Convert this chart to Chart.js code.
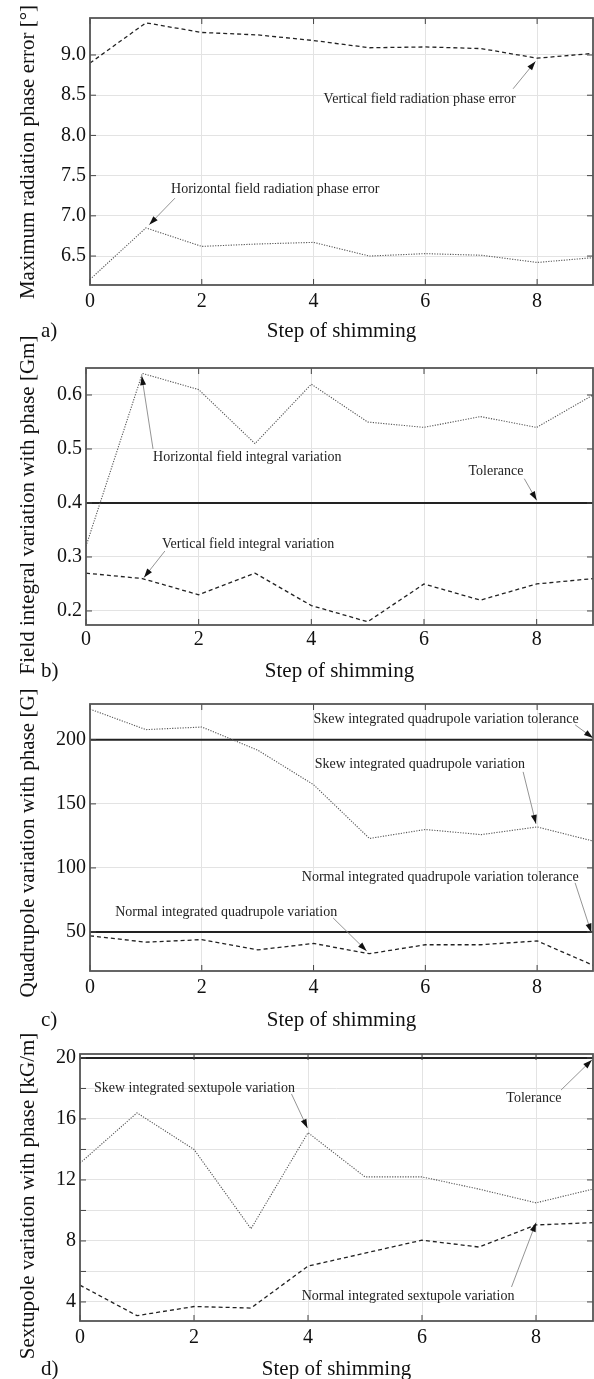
<!DOCTYPE html>
<html>
<head>
<meta charset="utf-8">
<script src="https://cdn.jsdelivr.net/npm/chart.js@4.4.1/dist/chart.umd.min.js"></script>
<style>
  html, body { margin: 0; padding: 0; background: #fff; }
  #page { position: relative; width: 594px; height: 1379px; overflow: hidden; background: #fff; }
  canvas { position: absolute; left: 0; }
</style>
</head>
<body>
<div id="page">
  <canvas id="chartA" width="594" height="345" style="top:0px"></canvas>
  <canvas id="chartB" width="594" height="365" style="top:325px"></canvas>
  <canvas id="chartC" width="594" height="360" style="top:680px"></canvas>
  <canvas id="chartD" width="594" height="349" style="top:1030px"></canvas>
</div>
<script>
const steps = [0, 1, 2, 3, 4, 5, 6, 7, 8, 9];

// a) max radiation phase error [deg]
const phaseErrVertical = [8.90, 9.40, 9.28, 9.25, 9.18, 9.09, 9.10, 9.08, 8.96, 9.02];
const phaseErrHorizontal = [6.21, 6.85, 6.62, 6.65, 6.67, 6.50, 6.53, 6.51, 6.42, 6.48];

// b) field integral variation [Gm]
const fieldIntHorizontal = [0.32, 0.64, 0.61, 0.51, 0.62, 0.55, 0.54, 0.56, 0.54, 0.60];
const fieldIntVertical = [0.27, 0.26, 0.23, 0.27, 0.21, 0.18, 0.25, 0.22, 0.25, 0.26];
const fieldIntTolerance = 0.4;

// c) quadrupole variation [G]
const quadSkew = [224, 208, 210, 192, 165, 123, 130, 126, 132, 121];
const quadNormal = [47, 42, 44, 36, 41, 33, 40, 40, 43, 24];
const quadSkewTolerance = 200;
const quadNormalTolerance = 50;

// d) sextupole variation [kG/m]
const sextSkew = [13.1, 16.4, 14.0, 8.8, 15.1, 12.2, 12.2, 11.4, 10.5, 11.4];
const sextNormal = [5.1, 3.1, 3.7, 3.6, 6.35, 7.2, 8.05, 7.6, 9.05, 9.2];
const sextTolerance = 20;

const xTicks = [0, 2, 4, 6, 8];

const SERIF = '"Liberation Serif", "Times New Roman", serif';

function pts(vals) {
  return steps.map((s, i) => ({ x: s, y: vals[i] }));
}
function flat(v) {
  return [{ x: steps[0], y: v }, { x: steps[steps.length - 1], y: v }];
}

const dashed = { borderColor: '#222', borderWidth: 1.3, borderDash: [4, 3] };
const dotted = { borderColor: '#555', borderWidth: 1.1, borderDash: [1.2, 1.4] };
const solid = { borderColor: '#222', borderWidth: 2 };

// frame, inward ticks, annotations, rotated y title, panel letter
const decor = {
  id: 'decor',
  afterDatasetsDraw(chart, args, opts) {
    const { ctx, chartArea: a, scales: { x, y } } = chart;
    ctx.save();
    ctx.strokeStyle = '#444';
    ctx.lineWidth = 1;
    ctx.beginPath();
    x.ticks.forEach(t => {
      const px = x.getPixelForValue(t.value);
      ctx.moveTo(px, a.bottom); ctx.lineTo(px, a.bottom - 6);
      ctx.moveTo(px, a.top); ctx.lineTo(px, a.top + 6);
    });
    y.ticks.forEach(t => {
      const py = y.getPixelForValue(t.value);
      ctx.moveTo(a.left, py); ctx.lineTo(a.left + 6, py);
      ctx.moveTo(a.right, py); ctx.lineTo(a.right - 6, py);
    });
    ctx.stroke();

    ctx.strokeStyle = '#555';
    ctx.lineWidth = 1.8;
    ctx.strokeRect(a.left, a.top, a.right - a.left, a.bottom - a.top);

    // annotations
    (opts.notes || []).forEach(n => {
      const fx = x.getPixelForValue(n.from[0]), fy = y.getPixelForValue(n.from[1]);
      const tx = x.getPixelForValue(n.to[0]), ty = y.getPixelForValue(n.to[1]);
      ctx.strokeStyle = '#888';
      ctx.lineWidth = 0.9;
      ctx.beginPath(); ctx.moveTo(fx, fy); ctx.lineTo(tx, ty); ctx.stroke();
      const ang = Math.atan2(ty - fy, tx - fx);
      ctx.fillStyle = '#111';
      ctx.beginPath();
      ctx.moveTo(tx, ty);
      ctx.lineTo(tx - 9 * Math.cos(ang) + 3 * Math.sin(ang), ty - 9 * Math.sin(ang) - 3 * Math.cos(ang));
      ctx.lineTo(tx - 9 * Math.cos(ang) - 3 * Math.sin(ang), ty - 9 * Math.sin(ang) + 3 * Math.cos(ang));
      ctx.closePath(); ctx.fill();

      ctx.font = '14px ' + SERIF;
      ctx.textAlign = 'left';
      ctx.textBaseline = 'middle';
      ctx.fillStyle = '#222';
      ctx.fillText(n.text, x.getPixelForValue(n.at[0]), y.getPixelForValue(n.at[1]));
    });

    // y axis title
    ctx.save();
    ctx.translate(28, opts.titleY);
    ctx.rotate(-Math.PI / 2);
    ctx.font = '21px ' + SERIF;
    ctx.textAlign = 'center';
    ctx.textBaseline = 'middle';
    ctx.fillStyle = '#111';
    ctx.fillText(opts.yTitle, 0, 0);
    ctx.restore();

    // panel letter
    ctx.font = '21px ' + SERIF;
    ctx.textAlign = 'left';
    ctx.textBaseline = 'middle';
    ctx.fillStyle = '#111';
    ctx.fillText(opts.letter, 41, opts.letterY);
    ctx.restore();
  }
};

function makeChart(id, cfg) {
  return new Chart(document.getElementById(id), {
    type: 'line',
    data: { datasets: cfg.datasets },
    options: {
      responsive: false,
      animation: false,
      layout: { padding: { top: cfg.padTop, left: 0, right: 1, bottom: 0 } },
      elements: { point: { radius: 0 }, line: { tension: 0 } },
      plugins: { legend: { display: false }, tooltip: { enabled: false }, decor: cfg.decor },
      scales: {
        x: {
          type: 'linear', min: 0, max: 9,
          afterBuildTicks: s => { s.ticks = xTicks.map(v => ({ value: v })); },
          ticks: { padding: cfg.xTickPad, color: '#111', font: { family: SERIF, size: 20 }, maxRotation: 0, autoSkip: false },
          grid: { color: '#e3e3e3', drawTicks: false },
          border: { display: false },
          title: { display: true, text: 'Step of shimming', color: '#111', font: { family: SERIF, size: 21 }, padding: { top: 0, bottom: cfg.xTitlePad } },
          afterFit: s => { s.height = cfg.xHeight; }
        },
        y: {
          min: cfg.yMin, max: cfg.yMax,
          ticks: { stepSize: cfg.yStep, includeBounds: false, padding: 4, color: '#111', autoSkip: false, font: { family: SERIF, size: 20 }, callback: cfg.yLabel },
          grid: { color: '#e3e3e3', drawTicks: false },
          border: { display: false },
          afterFit: s => { s.width = cfg.left; }
        }
      }
    },
    plugins: [decor]
  });
}

makeChart('chartA', {
  padTop: 18, left: 90, xHeight: 60, xTickPad: 5, xTitlePad: 1.4,
  yMin: 6.14, yMax: 9.46, yStep: 0.5, yLabel: v => v.toFixed(1),
  datasets: [
    Object.assign({ data: pts(phaseErrVertical) }, dashed),
    Object.assign({ data: pts(phaseErrHorizontal) }, dotted)
  ],
  decor: {
    yTitle: 'Maximum radiation phase error [°]', titleY: 152, letter: 'a)', letterY: 331,
    notes: [
      { text: 'Vertical field radiation phase error', at: [4.18, 8.45], from: [7.57, 8.58], to: [7.97, 8.92] },
      { text: 'Horizontal field radiation phase error', at: [1.45, 7.33], from: [1.52, 7.22], to: [1.06, 6.89] }
    ]
  }
});

makeChart('chartB', {
  padTop: 43, left: 86, xHeight: 65, xTickPad: 3, xTitlePad: 6.4,
  yMin: 0.174, yMax: 0.65, yStep: 0.1, yLabel: v => v.toFixed(1),
  datasets: [
    Object.assign({ data: pts(fieldIntHorizontal) }, dotted),
    Object.assign({ data: pts(fieldIntVertical) }, dashed),
    Object.assign({ data: flat(fieldIntTolerance) }, solid)
  ],
  decor: {
    yTitle: 'Field integral variation with phase [Gm]', titleY: 180, letter: 'b)', letterY: 346,
    notes: [
      { text: 'Horizontal field integral variation', at: [1.19, 0.485], from: [1.19, 0.50], to: [0.99, 0.635] },
      { text: 'Tolerance', at: [6.79, 0.459], from: [7.78, 0.445], to: [8.0, 0.405] },
      { text: 'Vertical field integral variation', at: [1.35, 0.324], from: [1.40, 0.311], to: [1.03, 0.262] }
    ]
  }
});

makeChart('chartC', {
  padTop: 24, left: 90, xHeight: 69, xTickPad: 5, xTitlePad: 7.4,
  yMin: 19.5, yMax: 228, yStep: 50, yLabel: v => v,
  datasets: [
    Object.assign({ data: pts(quadSkew) }, dotted),
    Object.assign({ data: pts(quadNormal) }, dashed),
    Object.assign({ data: flat(quadSkewTolerance) }, solid),
    Object.assign({ data: flat(quadNormalTolerance) }, solid)
  ],
  decor: {
    yTitle: 'Quadrupole variation with phase [G]', titleY: 163, letter: 'c)', letterY: 340,
    notes: [
      { text: 'Skew integrated quadrupole variation tolerance', at: [4.0, 216.4], from: [8.68, 211.7], to: [9.0, 201.5] },
      { text: 'Skew integrated quadrupole variation', at: [4.02, 180.5], from: [7.75, 175], to: [7.98, 134.4] },
      { text: 'Normal integrated quadrupole variation tolerance', at: [3.79, 93], from: [8.68, 88.3], to: [8.97, 49.5] },
      { text: 'Normal integrated quadrupole variation', at: [0.45, 65.6], from: [4.35, 60.9], to: [4.95, 35.2] }
    ]
  }
});

makeChart('chartD', {
  padTop: 24, left: 80, xHeight: 58, xTickPad: 5, xTitlePad: -2.6,
  yMin: 2.75, yMax: 20.26, yStep: 2, yLabel: v => (v % 4 === 0 ? v : ''),
  datasets: [
    Object.assign({ data: pts(sextSkew) }, dotted),
    Object.assign({ data: pts(sextNormal) }, dashed),
    Object.assign({ data: flat(sextTolerance) }, solid)
  ],
  decor: {
    yTitle: 'Sextupole variation with phase [kG/m]', titleY: 166, letter: 'd)', letterY: 339,
    notes: [
      { text: 'Skew integrated sextupole variation', at: [0.245, 18.03], from: [3.71, 17.64], to: [3.99, 15.4] },
      { text: 'Tolerance', at: [7.48, 17.38], from: [8.44, 17.9], to: [8.98, 19.87] },
      { text: 'Normal integrated sextupole variation', at: [3.89, 4.39], from: [7.57, 4.98], to: [8.0, 9.2] }
    ]
  }
});
</script>
</body>
</html>
